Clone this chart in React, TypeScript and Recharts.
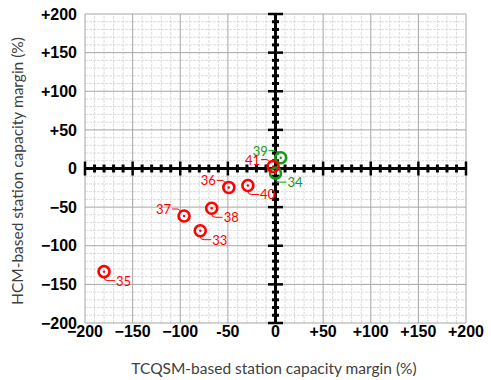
import React from 'react';
import { ScatterChart, Scatter, XAxis, YAxis, ReferenceLine } from 'recharts';

// station points (percent margins)
const stationIds = ['33', '34', '35', '36', '37', '38', '39', '40', '41'];
const tcqsmMargin = [-79, 0, -180, -49, -96, -67, 5.5, -29, -2.5];
const hcmMargin = [-80.5, -6, -133.5, -24.5, -61.5, -51.5, 14, -22, 2.5];
const stationGroup = ['red', 'green', 'red', 'red', 'red', 'red', 'green', 'red', 'red'];

const majorTicks = [-200, -150, -100, -50, 0, 50, 100, 150, 200];
const xTickLabels = ['\u2212200', '\u2212150', '\u2212100', '-50', '0', '+50', '+100', '+150', '+200'];
const yTickLabels = ['\u2212200', '\u2212150', '\u2212100', '\u221250', '0', '+50', '+100', '+150', '+200'];

const xTitle = 'TCQSM-based station capacity margin (%)';
const yTitle = 'HCM-based station capacity margin (%)';

// minor grid / axis tick step
const range = (from: number, to: number, step: number) => {
  const out: number[] = [];
  for (let v = from; v <= to; v += step) out.push(v);
  return out;
};
const minorValues = range(-200, 200, 10);

const groupColor: Record<string, string> = { red: '#ff0000', green: '#129a12' };
// which side the callout sits on
const labelSide: Record<string, 'left' | 'right'> = {
  '33': 'right', '34': 'right', '35': 'right', '36': 'left', '37': 'left',
  '38': 'right', '39': 'left', '40': 'right', '41': 'left',
};

const points = stationIds.map((id, i) => ({ id, x: tcqsmMargin[i], y: hcmMargin[i], group: stationGroup[i] }));
const hAxisTicks = minorValues.map((v) => ({ x: v, y: 0, major: v % 50 === 0 }));
const vAxisTicks = minorValues.map((v) => ({ x: 0, y: v, major: v % 50 === 0 }));

const tickStyle = { fontFamily: 'Liberation Sans, Arial, sans-serif', fontWeight: 700, fontSize: 16, fill: '#000' };
const titleFont = 'Lato, "Open Sans", sans-serif';

const StationMark = (props: any) => {
  const { cx, cy, payload } = props;
  const color = groupColor[payload.group];
  const side = labelSide[payload.id];
  return (
    <g>
      <circle cx={cx} cy={cy} r={5.5} fill="none" stroke={color} strokeWidth={2.6} />
      <circle cx={cx} cy={cy} r={1.2} fill={color} />
      {side === 'left' ? (
        <g>
          <path d={`M${cx - 12},${cy - 7} L${cx - 6},${cy - 7} L${cx - 3},${cy - 4.5}`} stroke={color} strokeWidth={1} fill="none" />
          <text x={cx - 13} y={cy - 7} textAnchor="end" dominantBaseline="central" fontFamily={titleFont} fontSize={13} fill={color}>
            {payload.id}
          </text>
        </g>
      ) : (
        <g>
          <path d={`M${cx},${cy + 6} Q${cx},${cy + 9} ${cx + 4},${cy + 9} L${cx + 11},${cy + 9}`} stroke={color} strokeWidth={1} fill="none" />
          <text x={cx + 12} y={cy + 9} textAnchor="start" dominantBaseline="central" fontFamily={titleFont} fontSize={13} fill={color}>
            {payload.id}
          </text>
        </g>
      )}
    </g>
  );
};

const HTick = (props: any) => {
  const { cx, cy, payload } = props;
  const h = payload.major ? 7 : 4;
  return <line x1={cx} y1={cy - h} x2={cx} y2={cy + h} stroke="#000" strokeWidth={payload.major ? 2.5 : 3} />;
};

const VTick = (props: any) => {
  const { cx, cy, payload } = props;
  const w = payload.major ? 7.5 : 3.5;
  return <line x1={cx - w} y1={cy} x2={cx + w} y2={cy} stroke="#000" strokeWidth={payload.major ? 2.5 : 3} />;
};

export default function App() {
  return (
    <div style={{ position: 'absolute', left: 0, top: 0, background: '#fff' }}>
      <ScatterChart width={491} height={380} margin={{ top: 14, right: 25, bottom: 0, left: 0 }}>
        <XAxis
          type="number"
          dataKey="x"
          domain={[-200, 200]}
          ticks={majorTicks}
          tickFormatter={(v: number) => xTickLabels[majorTicks.indexOf(v)]}
          axisLine={false}
          tickLine={false}
          tickSize={0}
          tickMargin={3}
          tick={tickStyle}
          height={57}
          interval={0}
          label={() => (
            <text x={274} y={368} textAnchor="middle" dominantBaseline="central" fontFamily={titleFont} fontSize={15.5} fill="#404040">
              {xTitle}
            </text>
          )}
        />
        <YAxis
          type="number"
          dataKey="y"
          domain={[-200, 200]}
          ticks={majorTicks}
          tickFormatter={(v: number) => yTickLabels[majorTicks.indexOf(v)]}
          axisLine={false}
          tickLine={false}
          tickSize={0}
          tickMargin={8}
          tick={tickStyle}
          width={85}
          interval={0}
          label={() => (
            <text x={17} y={171} transform="rotate(-90, 17, 171)" textAnchor="middle" dominantBaseline="central" fontFamily={titleFont} fontSize={15.5} fill="#404040">
              {yTitle}
            </text>
          )}
        />
        {minorValues.filter((v) => v % 50 !== 0).map((v) => (
          <ReferenceLine key={`mx${v}`} x={v} stroke="#dcdcdc" strokeDasharray="3 1" />
        ))}
        {minorValues.filter((v) => v % 50 !== 0).map((v) => (
          <ReferenceLine key={`my${v}`} y={v} stroke="#dcdcdc" strokeDasharray="3 1" />
        ))}
        {majorTicks.map((v) => (
          <ReferenceLine key={`Mx${v}`} x={v} stroke="#a6a6a6" strokeWidth={1} />
        ))}
        {majorTicks.map((v) => (
          <ReferenceLine key={`My${v}`} y={v} stroke="#a6a6a6" strokeWidth={1} />
        ))}
        <ReferenceLine x={0} stroke="#000" strokeWidth={3} />
        <ReferenceLine y={0} stroke="#000" strokeWidth={3} />
        <Scatter data={hAxisTicks} shape={HTick} isAnimationActive={false} />
        <Scatter data={vAxisTicks} shape={VTick} isAnimationActive={false} />
        <Scatter data={points} shape={StationMark} isAnimationActive={false} />
      </ScatterChart>
    </div>
  );
}
